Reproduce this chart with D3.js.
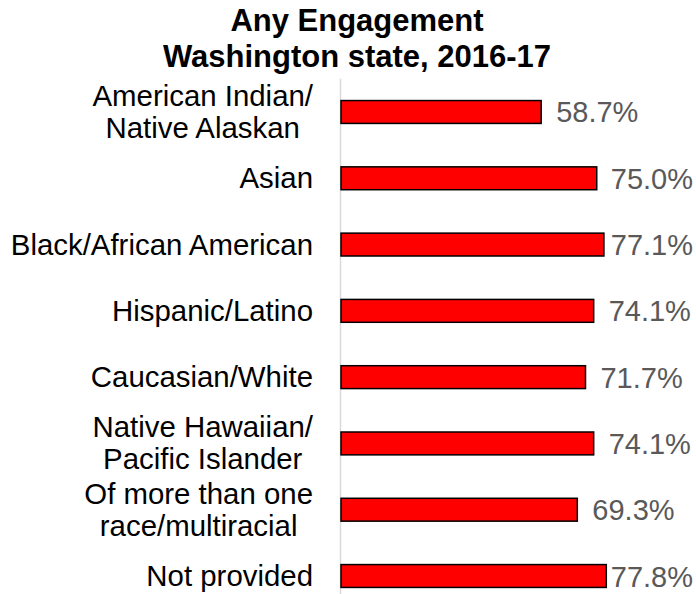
<!DOCTYPE html>
<html>
<head>
<meta charset="utf-8">
<script src="https://cdn.jsdelivr.net/npm/d3@7"></script>
<style>
  html, body { margin: 0; padding: 0; background: #ffffff; }
  svg { display: block; font-family: "Liberation Sans", Arial, sans-serif; }
</style>
</head>
<body>
<svg id="chart" width="696" height="594"></svg>
<script>
const titleLines = ["Any Engagement", "Washington state, 2016-17"];
const categories = [
  ["American Indian/", "Native Alaskan"],
  ["Asian"],
  ["Black/African American"],
  ["Hispanic/Latino"],
  ["Caucasian/White"],
  ["Native Hawaiian/", "Pacific Islander"],
  ["Of more than one", "race/multiracial"],
  ["Not provided"]
];
const values = [58.7, 75.0, 77.1, 74.1, 71.7, 74.1, 69.3, 77.8];

const W = 696, H = 594;
const svg = d3.select("#chart");

const x = d3.scaleLinear().domain([0, 100]).range([341, 682]);
const y = d3.scaleBand()
  .domain(d3.range(categories.length))
  .range([78.85, 609.15])
  .paddingInner(0.655)
  .paddingOuter(0.3275);

// Title
svg.append("text")
  .attr("x", 357)
  .attr("text-anchor", "middle")
  .attr("font-weight", "bold")
  .attr("font-size", 31)
  .attr("fill", "#000")
  .selectAll("tspan")
  .data(titleLines)
  .join("tspan")
  .attr("x", 357)
  .attr("y", (d, i) => 31 + i * 36)
  .text(d => d);

// Vertical axis line
svg.append("line")
  .attr("x1", x(0) - 0.5).attr("x2", x(0) - 0.5)
  .attr("y1", y.range()[0]).attr("y2", y.range()[1])
  .attr("stroke", "#d9d9d9")
  .attr("stroke-width", 1.5);

// Bars
svg.append("g")
  .selectAll("rect")
  .data(values)
  .join("rect")
  .attr("x", x(0))
  .attr("y", (d, i) => y(i))
  .attr("width", d => x(d) - x(0))
  .attr("height", y.bandwidth())
  .attr("fill", "#ff0000")
  .attr("stroke", "#000000")
  .attr("stroke-width", 1.5);

// Category labels (block right-aligned, lines centered)
const labelRight = 313;
const lineH = 32;
const catG = svg.append("g").attr("font-size", 29.4).attr("fill", "#000");
categories.forEach((lines, i) => {
  const cy = y(i) + y.bandwidth() / 2;
  const t = catG.append("text").attr("text-anchor", "middle");
  const spans = t.selectAll("tspan").data(lines).join("tspan").text(d => d);
  let maxW = 0;
  spans.each(function() { maxW = Math.max(maxW, this.getComputedTextLength()); });
  const cx = labelRight - maxW / 2;
  const n = lines.length;
  spans.attr("x", cx)
    .attr("y", (d, k) => cy + 10 + (k - (n - 1) / 2) * lineH);
});

// Value labels
const valG = svg.append("g").attr("font-size", 29).attr("fill", "#595959");
values.forEach((v, i) => {
  const cy = y(i) + y.bandwidth() / 2;
  const t = valG.append("text")
    .attr("y", cy + 10.5)
    .text(v.toFixed(1) + "%");
  const tw = t.node().getComputedTextLength();
  t.attr("x", Math.min(x(v) + 15, W - 3 - tw));
});
</script>
</body>
</html>
